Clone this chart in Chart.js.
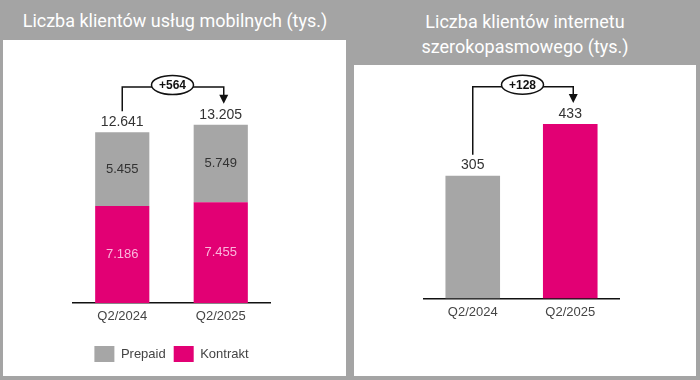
<!DOCTYPE html>
<html>
  <head>
    <title>Liczba klientów</title>
    <script src="https://cdn.jsdelivr.net/npm/chart.js@4.4.0/dist/chart.umd.min.js"></script>
    <style>
      html,body{
        width: 700px;
        height: 380px;
        margin: 0;
        padding: 0;
        background: #a4a4a4;
        overflow: hidden;
      }
      .title{
        position: absolute;
        color: #fff;
        font-family: Roboto, sans-serif;
        font-weight: 400;
        font-size: 18px;
        text-align: center;
        line-height: 25px;
      }
      .panel{
        position: absolute;
        background: #fff;
      }
      canvas{ display: block; }
    </style>
  </head>
  <body>
    <div class="title" style="left:0; top:8px; width:350px;">Liczba klientów usług mobilnych (tys.)</div>
    <div class="title" style="left:350px; top:9px; width:350px;">Liczba klientów internetu<br>szerokopasmowego (tys.)</div>

    <div class="panel" style="left:3px; top:40px; width:343px; height:336px;">
      <canvas id="mobile" width="343" height="336"></canvas>
    </div>
    <div class="panel" style="left:354px; top:65px; width:342px; height:311px;">
      <canvas id="internet" width="342" height="311"></canvas>
    </div>

    <script>
      // dane
      const kwartaly = ['Q2/2024', 'Q2/2025']
      const kontrakt = [7186, 7455]
      const prepaid = [5455, 5749]
      const sumaMobile = [12641, 13205]
      const internet = [305, 433]
      const zmianaMobile = '+564'
      const zmianaInternet = '+128'

      const MAGENTA = '#e20074'
      const SZARY = '#a6a6a6'
      const FONT = '"Liberation Sans", Arial, sans-serif'

      function fmt(v){
        if(v >= 1000) return (v/1000).toFixed(3)
        return String(v)
      }

      // etykiety wartości + strzałka ze zmianą
      const adnotacje = {
        id: 'adnotacje',
        afterDatasetsDraw(chart, args, opts){
          const ctx = chart.ctx
          const metas = chart.getSortedVisibleDatasetMetas()
          const top = metas[metas.length-1]
          ctx.save()
          ctx.textAlign = 'center'
          ctx.textBaseline = 'middle'

          // wartości w segmentach
          if(opts.inner){
            metas.forEach(m => {
              m.data.forEach((bar, i) => {
                const v = chart.data.datasets[m.index].data[i]
                ctx.fillStyle = m.index === 0 ? '#fbb6dc' : '#333'
                ctx.font = '13px ' + FONT
                ctx.fillText(fmt(v), bar.x, (bar.y + bar.base)/2)
              })
            })
          }
          // sumy nad słupkami
          top.data.forEach((bar, i) => {
            ctx.fillStyle = '#333'
            ctx.font = '14px ' + FONT
            ctx.fillText(fmt(opts.sumy[i]), bar.x, bar.y - 10)
          })

          // strzałka
          const b0 = top.data[0], b1 = top.data[1]
          const yLvl = chart.scales.y.getPixelForValue(opts.level)
          const xm = (b0.x + b1.x)/2 + 1
          ctx.strokeStyle = '#111'
          ctx.fillStyle = '#111'
          ctx.lineWidth = 1.5
          ctx.beginPath()
          ctx.moveTo(b0.x, b0.y - 21)
          ctx.lineTo(b0.x, yLvl)
          ctx.lineTo(b1.x + 3, yLvl)
          ctx.lineTo(b1.x + 3, b1.y - 29)
          ctx.stroke()
          ctx.beginPath()
          ctx.moveTo(b1.x + 3 - 4.5, b1.y - 30)
          ctx.lineTo(b1.x + 3 + 4.5, b1.y - 30)
          ctx.lineTo(b1.x + 3, b1.y - 21)
          ctx.closePath()
          ctx.fill()

          ctx.beginPath()
          ctx.ellipse(xm, yLvl - 2, 21, 9.5, 0, 0, Math.PI*2)
          ctx.fillStyle = '#fff'
          ctx.fill()
          ctx.stroke()
          ctx.fillStyle = '#111'
          ctx.font = 'bold 12px ' + FONT
          ctx.fillText(opts.label, xm, yLvl - 1)
          ctx.restore()
        }
      }

      function osX(h){
        return {
          grid: { display: false, drawTicks: false },
          border: { display: true, color: '#111', width: 1.5 },
          ticks: { color: '#444', font: { family: FONT, size: 13 }, padding: 6 },
          afterFit(scale){ if(h) scale.height = h }
        }
      }

      new Chart(document.getElementById('mobile'), {
        type: 'bar',
        data: {
          labels: kwartaly,
          datasets: [
            { label: 'Kontrakt', data: kontrakt, backgroundColor: MAGENTA },
            { label: 'Prepaid', data: prepaid, backgroundColor: SZARY }
          ]
        },
        options: {
          responsive: false,
          animation: false,
          categoryPercentage: 0.55,
          barPercentage: 1,
          layout: { padding: { left: 70, right: 76, top: 20, bottom: 4 } },
          scales: {
            x: { ...osX(35), stacked: true },
            y: { stacked: true, display: false, min: 0, max: 18000 }
          },
          plugins: {
            tooltip: { enabled: false },
            legend: {
              position: 'bottom',
              reverse: true,
              labels: {
                boxWidth: 20, boxHeight: 16, padding: 8,
                color: '#444', font: { family: FONT, size: 13 }
              }
            },
            adnotacje: { inner: true, level: 16000, label: zmianaMobile, sumy: sumaMobile }
          }
        },
        plugins: [adnotacje]
      })

      new Chart(document.getElementById('internet'), {
        type: 'bar',
        data: {
          labels: kwartaly,
          datasets: [
            { label: 'Internet', data: internet, backgroundColor: [SZARY, MAGENTA] }
          ]
        },
        options: {
          responsive: false,
          animation: false,
          categoryPercentage: 0.56,
          barPercentage: 1,
          layout: { padding: { left: 70, right: 77, top: 8, bottom: 50 } },
          scales: {
            x: osX(0),
            y: { display: false, min: 0, max: 560 }
          },
          plugins: {
            tooltip: { enabled: false },
            legend: { display: false },
            adnotacje: { inner: false, level: 526, label: zmianaInternet, sumy: internet }
          }
        },
        plugins: [adnotacje]
      })
    </script>
  </body>
</html>
